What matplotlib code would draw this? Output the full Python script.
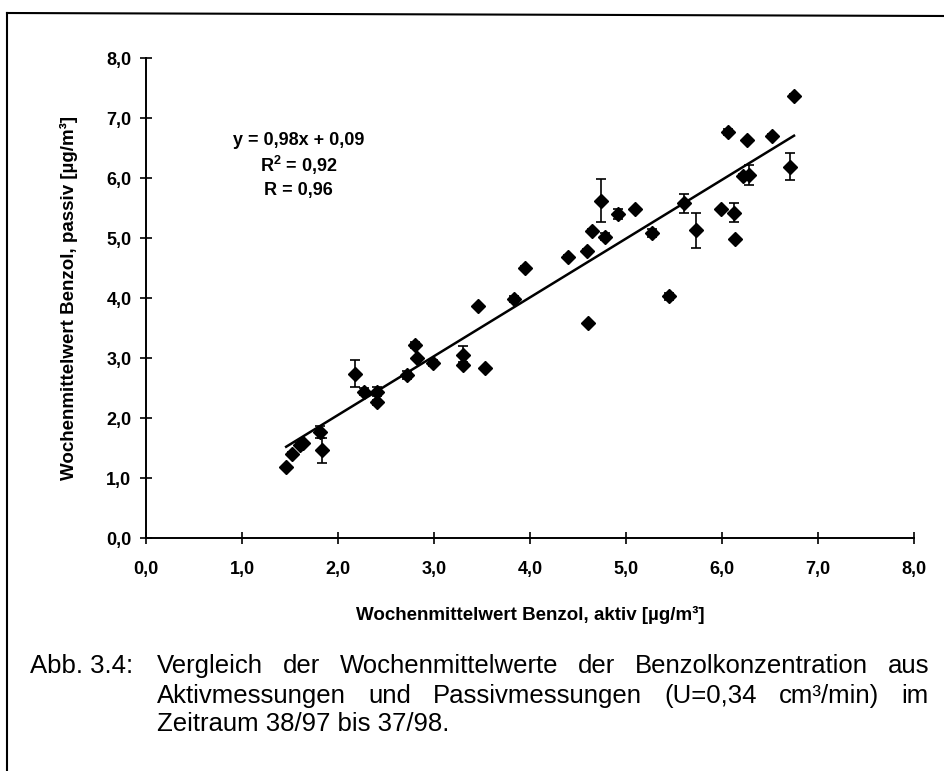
# benzol aktiv vs passiv - Abb. 3.4
import numpy as np
import matplotlib.pyplot as plt
from matplotlib.lines import Line2D

x_aktiv = [1.46, 1.52, 1.60, 1.64, 1.81, 1.83, 2.18, 2.27, 2.41, 2.41, 2.72,
           2.80, 2.82, 2.99, 3.30, 3.30, 3.46, 3.53, 3.83, 3.95, 4.40, 4.59,
           4.60, 4.65, 4.74, 4.78, 4.92, 5.09, 5.27, 5.45, 5.60, 5.73, 5.99,
           6.06, 6.13, 6.14, 6.22, 6.26, 6.28, 6.52, 6.71, 6.75]
y_passiv = [1.18, 1.40, 1.55, 1.58, 1.77, 1.46, 2.74, 2.44, 2.44, 2.26, 2.72,
            3.22, 3.00, 2.91, 3.05, 2.89, 3.86, 2.83, 3.99, 4.50, 4.69, 4.79,
            3.58, 5.12, 5.62, 5.02, 5.40, 5.49, 5.08, 4.03, 5.58, 5.13, 5.48,
            6.76, 5.42, 4.98, 6.03, 6.64, 6.05, 6.70, 6.19, 7.37]
y_err = [0.0, 0.04, 0.04, 0.04, 0.10, 0.21, 0.22, 0.06, 0.08, 0.04, 0.07,
         0.05, 0.0, 0.05, 0.15, 0.04, 0.03, 0.0, 0.05, 0.04, 0.03, 0.03,
         0.0, 0.03, 0.36, 0.06, 0.08, 0.0, 0.07, 0.06, 0.16, 0.29, 0.0,
         0.05, 0.16, 0.0, 0.03, 0.0, 0.17, 0.03, 0.23, 0.03]

slope = 0.98
intercept = 0.09
fit_text = ["y = 0,98x + 0,09", "R$^\\mathbf{2}$ = 0,92", "R = 0,96"]

ticks = np.arange(0, 9, 1.0)
tick_labels = [f"{t:.1f}".replace(".", ",") for t in ticks]

xlabel = "Wochenmittelwert Benzol, aktiv [µg/m³]"
ylabel = "Wochenmittelwert Benzol, passiv [µg/m³]"
caption_head = "Abb. 3.4:"
caption_lines = ["Vergleich der Wochenmittelwerte der Benzolkonzentration aus",
                 "Aktivmessungen und Passivmessungen (U=0,34 cm³/min) im",
                 "Zeitraum 38/97 bis 37/98."]

fonts = ["Liberation Sans", "DejaVu Sans"]
plt.rcParams["font.family"] = fonts
plt.rcParams["mathtext.fontset"] = "custom"
plt.rcParams["mathtext.bf"] = "Liberation Sans:bold"

W, H = 945, 771
fig = plt.figure(figsize=(W / 100, H / 100), dpi=100)
ax = fig.add_axes([146 / W, 1 - 538 / H, 768 / W, 480 / H])

ax.errorbar(x_aktiv, y_passiv, yerr=y_err, fmt="D", color="black",
            markersize=7, ecolor="black", elinewidth=1.2, capsize=3.5,
            capthick=1.2, zorder=3)

xf = np.array([min(x_aktiv), max(x_aktiv)])
ax.plot(xf, slope * xf + intercept, color="black", linewidth=1.8, zorder=2)

for i, s in enumerate(fit_text):
    ax.text(1.59, 6.63 - i * 0.42, s, ha="center", va="center",
            fontsize=13, fontweight="bold")

ax.set_xlim(0, 8)
ax.set_ylim(0, 8)
ax.set_xticks(ticks)
ax.set_yticks(ticks)
ax.set_xticklabels(tick_labels, fontweight="bold", fontsize=13)
ax.set_yticklabels(tick_labels, fontweight="bold", fontsize=13)
ax.tick_params(direction="inout", length=9, width=1.2)
ax.tick_params(axis="x", pad=12)
ax.tick_params(axis="y", pad=6)
for side in ["top", "right"]:
    ax.spines[side].set_visible(False)
for side in ["left", "bottom"]:
    ax.spines[side].set_linewidth(1.4)
ax.set_xlabel(xlabel, fontweight="bold", fontsize=13.5, labelpad=20)
ax.set_ylabel(ylabel, fontweight="bold", fontsize=13.5, labelpad=20)

# frame of the scanned page
fig.add_artist(Line2D([7 / W, 7 / W], [0, 1 - 13 / H], color="black", lw=1.5))
fig.add_artist(Line2D([7 / W, 1], [1 - 13 / H, 1 - 16 / H], color="black", lw=1.5))

# caption, justified like the printed page
cap_kw = dict(fontsize=18.5, va="baseline")
baselines = [673, 703, 731]
fig.text(30 / W, 1 - baselines[0] / H, caption_head, **cap_kw)
renderer = fig.canvas.get_renderer()
x0, x1 = 157, 929
for i, line in enumerate(caption_lines):
    y = 1 - baselines[i] / H
    if i == len(caption_lines) - 1:
        fig.text(x0 / W, y, line, **cap_kw)
        continue
    words = line.split()
    texts = [fig.text(0, y, w, **cap_kw) for w in words]
    widths = [t.get_window_extent(renderer).width for t in texts]
    gap = (x1 - x0 - sum(widths)) / (len(words) - 1)
    pos = x0
    for t, w in zip(texts, widths):
        t.set_x(pos / W)
        pos += w + gap

fig.savefig("out.png", dpi=100)
